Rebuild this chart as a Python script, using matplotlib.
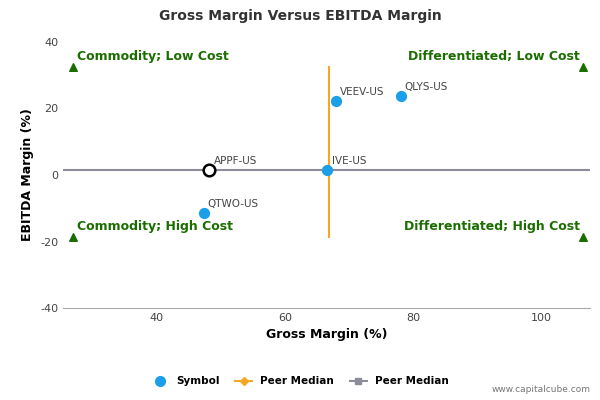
import matplotlib
matplotlib.use("Agg")
import matplotlib.pyplot as plt
from matplotlib.lines import Line2D
plt.rcParams["axes.unicode_minus"] = False

symbols = ["QLYS-US", "VEEV-US", "IVE-US", "APPF-US", "QTWO-US"]
gross = [78.0, 67.9, 66.6, 48.2, 47.3]
ebitda = [23.8, 22.3, 1.5, 1.5, -11.4]
median_x = 66.8
median_y = 1.5
xlim = (25.4, 107.5)
ylim = (-40, 40)
corner_y = (32.5, -18.5)
corner_x = (27.0, 106.5)

fig = plt.figure(figsize=(6, 4), dpi=100)
ax = fig.add_axes([0.105, 0.23, 0.878, 0.665])
ax.set_xlim(*xlim); ax.set_ylim(*ylim)
ax.plot([median_x, median_x], corner_y, color="#f5a623", lw=1.5, zorder=2)
ax.plot(xlim, [median_y, median_y], color="#8c8c9a", lw=1.5, zorder=2)
for s, x, y in zip(symbols, gross, ebitda):
    if s == "APPF-US":
        ax.scatter(x, y, s=70, facecolor="white", edgecolor="black", lw=1.8, zorder=4)
    else:
        ax.scatter(x, y, s=50, color="#1a9fe8", zorder=3)
    ax.annotate(s, (x, y), xytext=(3, 4), textcoords="offset points", fontsize=7.5, color="#444444")
green = "#1a6e00"
for (x, y, t, ha) in [(corner_x[0], corner_y[0], "Commodity; Low Cost", "left"),
                      (corner_x[1], corner_y[0], "Differentiated; Low Cost", "right"),
                      (corner_x[0], corner_y[1], "Commodity; High Cost", "left"),
                      (corner_x[1], corner_y[1], "Differentiated; High Cost", "right")]:
    ax.scatter(x, y, marker="^", color=green, s=30, zorder=3, clip_on=False)
    ax.text(x + (0.6 if ha == "left" else -0.6), y + 1.2, t, ha=ha, va="bottom",
            color=green, fontsize=9, fontweight="bold")
ax.set_xticks([40, 60, 80, 100]); ax.set_yticks([-40, -20, 0, 20, 40])
ax.tick_params(labelsize=8, colors="#444444", length=0)
for sp in ["top", "right", "left"]:
    ax.spines[sp].set_visible(False)
ax.spines["bottom"].set_color("#aaaaaa")
ax.set_xlabel("Gross Margin (%)", fontsize=9, fontweight="bold")
ax.set_ylabel("EBITDA Margin (%)", fontsize=9, fontweight="bold")
fig.text(0.5, 0.96, "Gross Margin Versus EBITDA Margin", ha="center", va="center",
         fontsize=10, fontweight="bold", color="#333333")
handles = [Line2D([], [], marker="o", ls="none", color="#1a9fe8", ms=7),
           Line2D([], [], marker="D", color="#f5a623", ms=4),
           Line2D([], [], marker="s", color="#8c8c9a", ms=5)]
fig.legend(handles, ["Symbol", "Peer Median", "Peer Median"], loc="center",
           bbox_to_anchor=(0.5, 0.047), ncol=3, frameon=False,
           prop={"size": 7.5, "weight": "bold"}, handlelength=1.6, columnspacing=1.5)
fig.text(0.985, 0.02, "www.capitalcube.com", ha="right", fontsize=6.5, color="#777777")
fig.savefig("out.png", dpi=100)
